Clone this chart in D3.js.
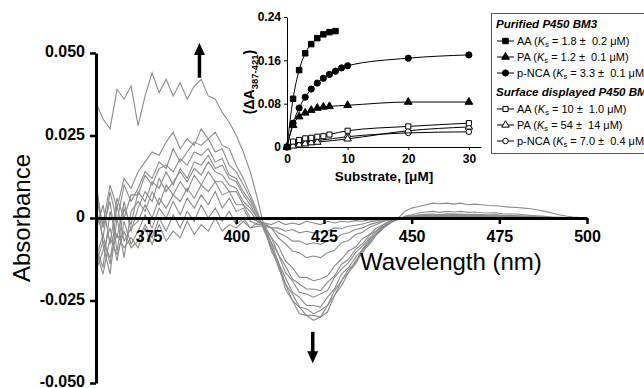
<!DOCTYPE html>
<html>
<head>
<meta charset="utf-8">
<script src="https://cdn.jsdelivr.net/npm/d3@7"></script>
<style>
  body { margin: 0; background: #fff; }
  svg { display: block; font-family: "Liberation Sans", Arial, sans-serif; }
  .keep { white-space: pre; }
</style>
</head>
<body>
<svg id="chart" width="644" height="388"></svg>
<script>
// --- data ---
// wavelength grid (nm), spectra in milli-absorbance units
const wavelengths = d3.range(360, 501, 2);
const spectrumA = [35,30,27,39,36,40, 28,37,44,38,42,37,41,36,40,42,37,36,32,29,25,20,14,6, -3,-10,-14,-21.5,-25,-29,-29.5,-31,-30,-28.5,-23.5,-20.5,-16.5,-14,-10,-8,-5,-3,-1.5,-0.3, 2,3,3.5,4,4.5,4.3,4.5,4.2,4.5,4,4.2,4,3.8,3.7,3.5,3.3,3.2,3,2.8,2.4,2,1.5,1,0.6,0.3,0.1,0];
const spectrumB = [6,-2,10,3,12,9, 14,17,20,19,23,26,21,24,22,27,24,26,22,21,16,12,7,2, -4,-8.5,-15,-20,-25,-27,-29.5,-29.5,-30,-26.5,-23.5,-19,-16.5,-13,-10.5,-7,-5,-3,-1.2,-0.5, 0.5,1,1.5,1.8,2,1.7,2,1.8,2,1.7,1.8,1.6,1.5,1.6,1.3,1.2,1.2,1,0.8,0.7,0.5,0.3,0.2,0.1,0,0,0];
const spectrumC = [3,-6,8,-1,10,5, 9,14,12,17,15,21,17,20,23,22,24,20,21,16,14,10,6,1, -3,-9,-13.5,-20,-23,-27,-27.5,-29,-28,-26.5,-22,-19,-15.5,-13.5,-9.5,-7.5,-4.5,-3,-1.3,-0.4, 0.3,0.6,0.9,1.1,1.2,1,1.3,1.1,1.2,1,1.1,1,0.9,1,0.8,0.8,0.7,0.6,0.5,0.4,0.3,0.2,0.1,0,0,0,0];
const spectrumD = [-4,4,-8,6,0,7, 7,13,10,15,16,14,18,16,20,19,21,17,18,13,12,8,5,1, -3.5,-7.5,-13.5,-18,-22.5,-24,-26.5,-26.5,-27,-24,-21.5,-17,-15,-12,-9.5,-6.5,-4.7,-2.5,-1.4,-0.4, 0.2,0.5,0.8,1,0.9,1.1,1,1.2,1,1.1,0.9,1,0.8,0.9,0.7,0.7,0.6,0.5,0.4,0.3,0.2,0.1,0,0,0,0,0];
const spectrumE = [10,-3,5,-10,3,-2, 8,5,11,9,14,10,15,12,17,16,19,15,16,12,11,7,4,0, -2.5,-7.5,-11,-16.5,-19,-22.5,-23,-24,-23,-22,-18,-15.5,-13.5,-10.5,-8.5,-6,-4,-2.5,-1,-0.4, 0,0.3,0.6,0.8,0.7,0.9,0.8,1,0.8,0.9,0.7,0.8,0.7,0.6,0.6,0.5,0.5,0.4,0.3,0.2,0.2,0.1,0,0,0,0,0];
const spectrumF = [-9,-15,2,-6,5,-4, 3,8,5,12,8,11,14,11,15,13,17,14,13,10,9,5,3,0, -3,-6,-11,-14.5,-18.5,-20,-21.5,-21.5,-22,-19.5,-17.5,-14,-12.5,-9.5,-7.8,-5.2,-3.8,-2,-1.1,-0.3, 0,0.2,0.4,0.6,0.5,0.7,0.6,0.8,0.6,0.7,0.5,0.6,0.5,0.5,0.4,0.4,0.3,0.3,0.2,0.2,0.1,0.1,0,0,0,0,0];
const spectrumG = [12,-8,-17,0,-12,2, 5,2,8,4,10,7,11,8,13,10,14,11,11,8,8,4,2,-1, -2,-6,-8.5,-13,-15,-18,-18,-19,-18.5,-17.5,-14.5,-12.5,-10,-8.8,-6.2,-5,-3,-2,-0.8,-0.3, 0,0.1,0.3,0.4,0.4,0.5,0.4,0.6,0.5,0.5,0.4,0.5,0.4,0.4,0.3,0.3,0.3,0.2,0.2,0.1,0.1,0,0,0,0,0,0];
const spectrumH = [-12,-5,-14,4,-7,-3, -1,4,0,6,3,7,5,9,6,10,8,11,7,8,4,4,0,-1, -1.5,-3,-6,-7.8,-10,-10.5,-12,-11.5,-12,-10.5,-9.8,-7.5,-6.8,-5,-4.3,-2.8,-2,-1,-0.6,-0.1, 0,0.1,0.2,0.3,0.3,0.4,0.3,0.4,0.3,0.4,0.3,0.3,0.3,0.2,0.2,0.2,0.2,0.1,0.1,0.1,0,0,0,0,0,0,0];
const spectrumI = [-16,-10,-3,-13,-1,-8, -4,1,-3,3,0,5,1,6,3,7,4,8,3,6,2,3,-1,-2, -2,-3,-4.5,-5.5,-7,-7,-8,-7.5,-8,-7,-6.5,-5,-4.5,-3.5,-3,-2,-1.4,-0.8,-0.4,0, 0,0,0.1,0.2,0.2,0.3,0.2,0.3,0.2,0.3,0.2,0.2,0.2,0.2,0.1,0.1,0.1,0.1,0,0,0,0,0,0,0,0,0];
const spectrumJ = [-10,-17,-6,-11,-4,-9, -7,-2,-6,0,-4,1,-3,2,-1,4,0,3,-1,2,-2,0,-3,-2.5, -2.5,-3,-3,-4,-3.5,-4.5,-4,-4.5,-4,-4,-3,-3.2,-2.5,-2.2,-1.8,-1.2,-0.8,-0.5,-0.2,0, 0,0,0,0.1,0.1,0.2,0.1,0.2,0.1,0.2,0.1,0.1,0.1,0.1,0.1,0,0,0,0,0,0,0,0,0,0,0,0];
const spectrumK = [-14,-7,-12,-5,-9,-6, -9,-3,-8,-2,-7,-4,-6,-1,-5,-2,-4,0,-4,-2,-3,-1,-3,-1.5, -1.5,-2,-1,-2,-1.5,-2,-1,-1.5,-2,-1,-1.5,-1,-1.2,-0.8,-1,-0.5,-0.6,-0.3,0,0, 0,0.1,0,0.1,0,0.1,0,0.1,0,0.1,0,0,0.1,0,0,0,0,0,0,0,0,0,0,0,0,0,0];

const yTicks = [-50, -25, 0, 25, 50];
const yTickLabels = ["-0.050", "-0.025", "0", "0.025", "0.050"];
const xTicks = [375, 400, 425, 450, 475, 500];

// arrows: [wavelength, from, to] in mAU
const upArrow = [389.5, 42.5, 53];
const downArrow = [421.8, -34.5, -44];

// inset binding data (substrate uM, delta A)
const aaPurX = [0,1,2,3,4,5,6,7,8];
const aaPurY = [0,0.089,0.142,0.173,0.190,0.201,0.208,0.212,0.214];
const paPurX = [0,1,2,3,4,5,6,7,10,20,30];
const paPurY = [0,0.040,0.056,0.063,0.068,0.072,0.074,0.075,0.077,0.083,0.083];
const pncaPurX = [0,1,2,3,4,5,6,7,8,9,10,20,30];
const pncaPurY = [0,0.044,0.072,0.092,0.107,0.118,0.127,0.134,0.140,0.146,0.150,0.164,0.170];
const aaSurfX = [0,1,2,3,4,5,6,7,10,20,30];
const aaSurfY = [0,0.010,0.013,0.016,0.017,0.019,0.020,0.023,0.030,0.038,0.044];
const paSurfX = [0,1,2,3,4,5,10,20,30];
const paSurfY = [0,0.002,0.004,0.006,0.008,0.009,0.015,0.030,0.037];
const pncaSurfX = [0,1,2,3,4,5,10,20,30];
const pncaSurfY = [0,0.005,0.007,0.009,0.011,0.012,0.019,0.026,0.028];

const insetYTicks = [0, 0.08, 0.16, 0.24];
const insetYLabels = ["0", "0.08", "0.16", "0.24"];
const insetXTicks = [0, 10, 20, 30];

const legendTitles = ["Purified P450 BM3", "Surface displayed P450 BM3"];
const legendNames = ["AA", "PA", "p-NCA", "AA", "PA", "p-NCA"];
const ksValues = ["1.8", "1.2", "3.3", "10", "54", "7.0"];
const ksErrors = ["0.2", "0.1", "0.1", "1.0", "14", "0.4"];

// --- drawing ---
const svg = d3.select("#chart");
const x = d3.scaleLinear().domain([360, 500]).range([96, 587]);
const y = d3.scaleLinear().domain([-50, 50]).range([383, 53]);

const spectra = [spectrumK, spectrumJ, spectrumI, spectrumH, spectrumG, spectrumF,
                 spectrumE, spectrumD, spectrumC, spectrumB, spectrumA];
const line = d3.line()
  .x((d, i) => x(wavelengths[i]))
  .y(d => y(d));

svg.append("g").selectAll("path").data(spectra).join("path")
  .attr("d", line)
  .attr("fill", "none")
  .attr("stroke", "#8c8c8c")
  .attr("stroke-width", 1.1);

// main axes
const yAxis = svg.append("g")
  .attr("transform", `translate(${x(360)},0)`)
  .call(d3.axisLeft(y).tickValues(yTicks).tickFormat((d, i) => yTickLabels[i])
    .tickSize(6).tickSizeOuter(0).tickPadding(5));
const xAxis = svg.append("g")
  .attr("transform", `translate(0,${y(0)})`)
  .call(d3.axisBottom(x).tickValues(xTicks).tickFormat(d3.format("d"))
    .tickSize(6).tickSizeOuter(0).tickPadding(7));
[yAxis, xAxis].forEach(a => {
  a.select(".domain").attr("stroke", "#000").attr("stroke-width", 3);
  a.selectAll(".tick line").attr("stroke", "#000").attr("stroke-width", 2.5);
  a.selectAll(".tick text").attr("fill", "#000")
    .attr("font-family", "'Liberation Sans', Arial, sans-serif")
    .attr("font-size", 16).attr("font-weight", "bold");
});
yAxis.selectAll(".tick text").attr("dy", "0.24em");

svg.append("text")
  .attr("transform", `translate(30,${y(0)}) rotate(-90)`)
  .attr("text-anchor", "middle")
  .attr("font-size", 24)
  .text("Absorbance");
svg.append("text")
  .attr("x", 360).attr("y", 270)
  .attr("font-size", 24)
  .text("Wavelength (nm)");

// arrows
[upArrow, downArrow].forEach(a => {
  const ax = x(a[0]), y0 = y(a[1]), y1 = y(a[2]);
  const dir = y1 < y0 ? -1 : 1;
  svg.append("line")
    .attr("x1", ax).attr("x2", ax)
    .attr("y1", y0).attr("y2", y1 - dir * 10)
    .attr("stroke", "#000").attr("stroke-width", 3.5);
  svg.append("path")
    .attr("d", `M${ax - 5.5},${y1 - dir * 12}L${ax + 5.5},${y1 - dir * 12}L${ax},${y1}Z`)
    .attr("fill", "#000");
});

// --- inset ---
const xi = d3.scaleLinear().domain([0, 32]).range([287, 481]);
const yi = d3.scaleLinear().domain([0, 0.24]).range([147, 17]);
const inset = svg.append("g");

const iy = inset.append("g")
  .attr("transform", `translate(${xi(0)},0)`)
  .call(d3.axisLeft(yi).tickValues(insetYTicks).tickFormat((d, i) => insetYLabels[i])
    .tickSize(3).tickSizeOuter(0).tickPadding(3));
const ix = inset.append("g")
  .attr("transform", `translate(0,${yi(0)})`)
  .call(d3.axisBottom(xi).tickValues(insetXTicks).tickSize(3).tickSizeOuter(0).tickPadding(4));
[iy, ix].forEach(a => {
  a.select(".domain").attr("stroke", "#000").attr("stroke-width", 1);
  a.selectAll(".tick line").attr("stroke", "#000");
  a.selectAll(".tick text").attr("fill", "#000")
    .attr("font-family", "'Liberation Sans', Arial, sans-serif")
    .attr("font-size", 12).attr("font-weight", "bold");
});

const ylab = inset.append("text")
  .attr("transform", `translate(254,${yi(0.12)}) rotate(-90)`)
  .attr("text-anchor", "middle")
  .attr("font-size", 14).attr("font-weight", "bold");
ylab.append("tspan").text("(\u0394A");
ylab.append("tspan").attr("font-size", 9.5).attr("dy", 4).text("387-421");
ylab.append("tspan").attr("dy", -4).text(")");

inset.append("text")
  .attr("x", 384).attr("y", 181)
  .attr("text-anchor", "middle")
  .attr("font-size", 13.5).attr("font-weight", "bold")
  .text("Substrate, [\u03bcM]");

const series = [
  { xs: aaPurX, ys: aaPurY, sym: d3.symbolSquare, size: 30, fill: "#000" },
  { xs: paPurX, ys: paPurY, sym: d3.symbolTriangle, size: 26, fill: "#000" },
  { xs: pncaPurX, ys: pncaPurY, sym: d3.symbolCircle, size: 30, fill: "#000" },
  { xs: aaSurfX, ys: aaSurfY, sym: d3.symbolSquare, size: 26, fill: "#fff" },
  { xs: paSurfX, ys: paSurfY, sym: d3.symbolTriangle, size: 24, fill: "#fff" },
  { xs: pncaSurfX, ys: pncaSurfY, sym: d3.symbolCircle, size: 24, fill: "#fff" }
];

const fitLine = d3.line().curve(d3.curveMonotoneX)
  .x(d => xi(d[0])).y(d => yi(d[1]));

series.forEach(s => {
  const pts = s.xs.map((v, i) => [v, s.ys[i]]);
  inset.append("path")
    .attr("d", fitLine(pts))
    .attr("fill", "none").attr("stroke", "#000").attr("stroke-width", 1);
});
series.slice().reverse().forEach(s => {
  const pts = s.xs.map((v, i) => [v, s.ys[i]]);
  inset.append("g").selectAll("path").data(pts).join("path")
    .attr("transform", d => `translate(${xi(d[0])},${yi(d[1])})`)
    .attr("d", d3.symbol().type(s.sym).size(s.size))
    .attr("fill", s.fill).attr("stroke", "#000").attr("stroke-width", 1);
});

// --- legend ---
const lg = svg.append("g");
lg.append("rect")
  .attr("x", 491.5).attr("y", 13.5).attr("width", 170).attr("height", 140)
  .attr("fill", "#fff").attr("stroke", "#555").attr("stroke-width", 1);

const rowY = [45, 61, 77, 113, 129, 145];
[28, 96].forEach((ty, gi) => {
  lg.append("text")
    .attr("x", 496).attr("y", ty)
    .attr("font-size", 11.6).attr("font-weight", "bold").attr("font-style", "italic")
    .text(legendTitles[gi]);
});
series.forEach((s, i) => {
  const ry = rowY[i] - 4;
  lg.append("line")
    .attr("x1", 497).attr("x2", 514).attr("y1", ry).attr("y2", ry)
    .attr("stroke", "#000").attr("stroke-width", 1);
  lg.append("path")
    .attr("transform", `translate(505.5,${ry})`)
    .attr("d", d3.symbol().type(s.sym).size(s.size))
    .attr("fill", s.fill).attr("stroke", "#000");
  const t = lg.append("text")
    .attr("class", "keep")
    .attr("x", 517).attr("y", rowY[i])
    .attr("font-size", 11);
  t.append("tspan").text(`${legendNames[i]} (`);
  t.append("tspan").attr("font-style", "italic").text("K");
  t.append("tspan").attr("font-size", 7.5).attr("dy", 2).text("s");
  t.append("tspan").attr("dy", -2).text(` = ${ksValues[i]} \u00b1  ${ksErrors[i]} \u03bcM)`);
});
</script>
</body>
</html>
